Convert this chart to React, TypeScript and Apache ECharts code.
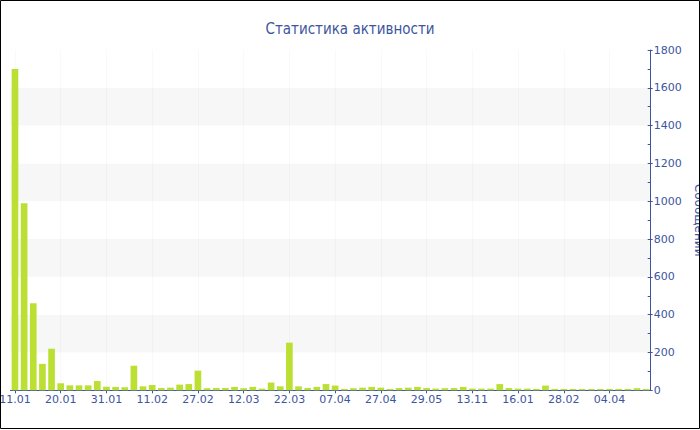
import React, { useEffect, useRef } from "react";
import * as echarts from "echarts";

// Days with activity (dd.mm) and the number of messages on each day
const dates: string[] = [
  "11.01", "12.01", "13.01", "14.01", "16.01",
  "20.01", "21.01", "23.01", "25.01", "28.01",
  "31.01", "02.02", "04.02", "06.02", "09.02",
  "11.02", "14.02", "17.02", "20.02", "24.02",
  "27.02", "01.03", "03.03", "05.03", "09.03",
  "12.03", "14.03", "16.03", "18.03", "20.03",
  "22.03", "24.03", "27.03", "30.03", "03.04",
  "07.04", "10.04", "14.04", "18.04", "23.04",
  "27.04", "03.05", "09.05", "15.05", "22.05",
  "29.05", "12.06", "08.07", "19.08", "24.09",
  "13.11", "04.12", "18.12", "29.12", "09.01",
  "16.01", "23.01", "30.01", "07.02", "19.02",
  "28.02", "06.03", "11.03", "17.03", "26.03",
  "04.04", "12.04", "21.04", "02.05", "14.05",
];

const messages: number[] = [
  1700, 990, 460, 140, 220,
  37, 26, 26, 26, 49,
  19, 18, 16, 130, 21,
  28, 12, 14, 30, 33,
  104, 11, 12, 12, 18,
  11, 18, 9, 41, 21,
  252, 21, 12, 18, 33,
  25, 7, 11, 14, 18,
  14, 7, 12, 14, 18,
  12, 9, 11, 12, 18,
  9, 9, 9, 33, 12,
  9, 9, 7, 25, 7,
  7, 7, 7, 7, 7,
  7, 7, 7, 11, 7,
];

const yMin = 0;
const yMax = 1800;
const yStep = 200;

const BLUE = "#3d55a0";
const BAR = "#bbe033";

export default function App() {
  const ref = useRef<HTMLDivElement>(null);

  useEffect(() => {
    if (!ref.current) return;
    const chart = echarts.init(ref.current, null, { renderer: "svg" });
    chart.setOption({
      animation: false,
      backgroundColor: "#ffffff",
      title: {
        text: "Статистика активности",
        left: "center",
        top: 16,
        textStyle: {
          color: BLUE,
          fontSize: 15,
          fontWeight: "normal",
          fontFamily: "'DejaVu Sans Condensed', 'DejaVu Sans', sans-serif",
        },
      },
      graphic: [
        {
          type: "rect",
          shape: { x: 0.5, y: 0.5, width: 699, height: 428 },
          style: { fill: "none", stroke: "#000", lineWidth: 1 },
          silent: true,
          z: 100,
        },
      ],
      grid: {
        left: 10.4,
        right: 49.3,
        top: 50,
        bottom: 39.7,
        containLabel: false,
        outerBoundsMode: "none",
      },
      xAxis: {
        type: "category",
        data: dates,
        boundaryGap: true,
        axisLine: { show: true, lineStyle: { color: BLUE, width: 1 } },
        axisTick: {
          show: true,
          alignWithLabel: true,
          interval: 4,
          length: 3,
          lineStyle: { color: BLUE },
        },
        axisLabel: {
          interval: 4,
          margin: 4,
          color: BLUE,
          fontSize: 11,
          fontFamily: "'DejaVu Sans', sans-serif",
        },
        splitLine: {
          show: true,
          alignWithLabel: true,
          interval: 4,
          lineStyle: { color: "rgba(0,0,0,0.025)", width: 1 },
        },
      },
      yAxis: [
        {
          type: "value",
          position: "right",
          min: yMin,
          max: yMax,
          interval: yStep,
          name: "Сообщений",
          nameLocation: "middle",
          nameGap: 34,
          nameRotate: -90,
          nameTextStyle: {
            color: BLUE,
            fontSize: 12,
            fontFamily: "'DejaVu Sans', sans-serif",
          },
          axisLine: { show: true, lineStyle: { color: BLUE, width: 1 } },
          axisTick: { show: true, inside: false, length: 2, lineStyle: { color: BLUE } },
          axisLabel: {
            margin: 3,
            color: BLUE,
            fontSize: 11,
            fontFamily: "'DejaVu Sans', sans-serif",
            formatter: (v: number) => String(v),
          },
          splitLine: { show: false },
          splitArea: {
            show: true,
            areaStyle: { color: ["#ffffff", "#f7f7f7"] },
          },
        },
        {
          type: "value",
          position: "right",
          min: yMin,
          max: yMax,
          interval: yStep,
          axisLine: { show: false },
          axisLabel: { show: false },
          axisTick: { show: true, inside: true, length: 3, lineStyle: { color: BLUE } },
          minorTick: { show: true, splitNumber: 2, length: 3, lineStyle: { color: BLUE } },
          splitLine: { show: false },
          splitArea: { show: false },
        },
      ],
      series: [
        {
          type: "bar",
          data: messages,
          yAxisIndex: 0,
          barCategoryGap: "27%",
          itemStyle: { color: BAR },
        },
      ],
    });
    return () => chart.dispose();
  }, []);

  return (
    <div
      style={{ position: "fixed", left: 0, top: 0, width: 700, height: 430, background: "#fff" }}
    >
      <div ref={ref} style={{ width: 700, height: 430 }} />
    </div>
  );
}
